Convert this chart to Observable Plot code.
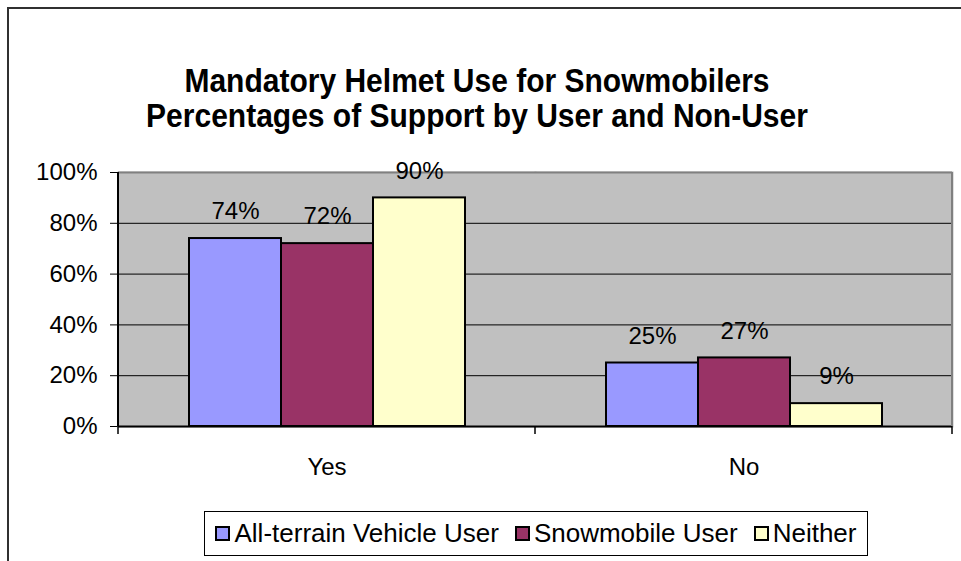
<!DOCTYPE html>
<html>
<head>
<meta charset="utf-8">
<script src="https://cdn.jsdelivr.net/npm/d3@7"></script>
<script src="https://cdn.jsdelivr.net/npm/@observablehq/plot@0.6"></script>
<style>
  html, body { margin: 0; padding: 0; background: #fff; }
  #wrap { position: relative; width: 961px; height: 561px; overflow: hidden; font-family: "Liberation Sans", Arial, sans-serif; }
  #border { position: absolute; left: 7px; top: 7px; width: 1000px; height: 600px; border: 2px solid #303030; box-sizing: border-box; }
  #title { position: absolute; left: 0; top: 63px; width: 954px; text-align: center; font-weight: bold; font-size: 30px; line-height: 31px; color: #000;
           transform: scaleY(1.12); transform-origin: 50% 0; }
  #chart { position: absolute; left: 0; top: 0; }
  #legend { position: absolute; left: 204px; top: 511px; width: 664px; height: 45px; box-sizing: border-box; border: 1px solid #000; background: #fff;
            display: flex; align-items: center; justify-content: center; gap: 16px; font-size: 26px; color: #000; }
  .item { display: flex; align-items: center; }
  .sw { width: 15px; height: 15px; box-sizing: border-box; border: 2px solid #000; margin-right: 4px; }
</style>
</head>
<body>
<div id="wrap">
  <div id="border"></div>
  <div id="chart"></div>
  <div id="title">Mandatory Helmet Use for Snowmobilers<br>Percentages of Support by User and Non-User</div>
  <div id="legend"></div>
</div>
<script>
const categories = ["Yes", "No"];
const series = ["All-terrain Vehicle User", "Snowmobile User", "Neither"];
const atvValues = [74, 25];
const snowmobileValues = [72, 27];
const neitherValues = [90, 9];
const seriesColors = ["#9999FF", "#993366", "#FFFFCC"];
const yTicks = [0, 20, 40, 60, 80, 100];
const gridValues = [20, 40, 60, 80];

const valueSets = [atvValues, snowmobileValues, neitherValues];
const data = [];
categories.forEach((c, ci) => {
  series.forEach((s, si) => data.push({cat: c, series: s, value: valueSets[si][ci]}));
});

const plot = Plot.plot({
  width: 961,
  height: 561,
  marginLeft: 118,
  marginRight: 9,
  marginTop: 172,
  marginBottom: 135,
  style: {fontFamily: '"Liberation Sans", Arial, sans-serif', fontSize: "24px", background: "transparent", color: "#000"},
  fx: {domain: categories, padding: 0, axis: "bottom", label: null, tickSize: 0, tickPadding: 31},
  x: {domain: series, paddingInner: 0, paddingOuter: 0.742, axis: null},
  y: {domain: [0, 100], ticks: yTicks, tickFormat: d => d + "%", tickSize: 8, tickPadding: 13, label: null},
  color: {domain: series, range: seriesColors},
  marks: [
    Plot.frame({fill: "#C0C0C0", stroke: "#C0C0C0", strokeWidth: 2}),
    Plot.ruleY(gridValues, {stroke: "#000", strokeWidth: 1}),
    Plot.ruleY([100], {stroke: "#808080", strokeWidth: 2}),
    Plot.barY(data, {fx: "cat", x: "series", y: "value", fill: "series", stroke: "#000", strokeWidth: 2}),
    Plot.ruleY([0], {stroke: "#000", strokeWidth: 2}),
    Plot.text(data, {fx: "cat", x: "series", y: "value", text: d => d.value + "%", dy: -27, fontSize: 24, fill: "#000"})
  ]
});
document.getElementById("chart").appendChild(plot);

// axis line, category separator ticks and right border, from Plot's own scales
const fx = plot.scale("fx");
const ys = plot.scale("y");
const svg = d3.select(plot);
const y0 = ys.apply(0), y100 = ys.apply(100);
const starts = fx.domain.map(d => fx.apply(d));
const edges = starts.concat([starts[starts.length - 1] + fx.bandwidth]);
svg.append("g").selectAll("line").data(edges).join("line")
  .attr("x1", d => d).attr("x2", d => d)
  .attr("y1", y0).attr("y2", y0 + 8)
  .attr("stroke", "#000").attr("stroke-width", 1.5);
svg.append("line")
  .attr("x1", edges[edges.length - 1]).attr("x2", edges[edges.length - 1])
  .attr("y1", y100).attr("y2", y0)
  .attr("stroke", "#808080").attr("stroke-width", 2);
svg.append("line")
  .attr("x1", edges[0]).attr("x2", edges[0])
  .attr("y1", y100).attr("y2", y0)
  .attr("stroke", "#000").attr("stroke-width", 2);

// legend
const legend = d3.select("#legend");
series.forEach((s, i) => {
  const item = legend.append("div").attr("class", "item");
  item.append("div").attr("class", "sw").style("background", seriesColors[i]);
  item.append("span").text(s);
});
</script>
</body>
</html>
